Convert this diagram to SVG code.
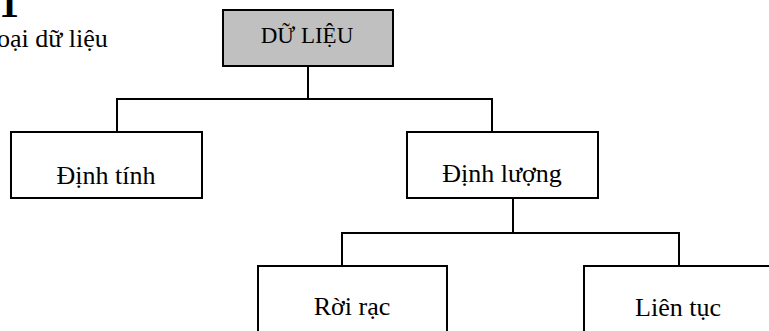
<svg xmlns="http://www.w3.org/2000/svg" width="769" height="331" viewBox="0 0 769 331">
  <style>
    .serif { font-family: "Liberation Serif", serif; fill: #000000; }
    .box { fill: #ffffff; stroke: #000000; stroke-width: 2; }
    .root { fill: #c0c0c0; }
    .label { font-size: 26px; text-anchor: middle; }
    .link { fill: none; stroke: #000000; stroke-width: 2; }
  </style>
  <rect width="769" height="331" fill="#ffffff"/>

  <!-- clipped heading text at the top-left corner -->
  <text class="serif" x="-1" y="17" font-size="40" font-weight="bold">1</text>
  <text class="serif" x="-3" y="47" font-size="26">oại dữ liệu</text>

  <g id="connectors">
    <path class="link" d="M308,66 V99"/>
    <path class="link" d="M117,132 V99 H492 V132"/>
    <path class="link" d="M513,198 V233"/>
    <path class="link" d="M342,266 V233 H679 V266"/>
  </g>

  <g id="du-lieu">
    <rect class="box root" x="223" y="10" width="170" height="56"/>
    <text class="serif label" x="307" y="43" style="font-size:23px">DỮ LIỆU</text>
  </g>
  <g id="dinh-tinh">
    <rect class="box" x="11" y="132" width="191" height="66"/>
    <text class="serif label" x="106" y="184">Định tính</text>
  </g>
  <g id="dinh-luong">
    <rect class="box" x="407" y="132" width="191" height="66"/>
    <text class="serif label" x="502" y="182">Định lượng</text>
  </g>
  <g id="roi-rac">
    <rect class="box" x="258" y="266" width="189" height="80"/>
    <text class="serif label" x="352" y="315">Rời rạc</text>
  </g>
  <g id="lien-tuc">
    <rect class="box" x="584" y="266" width="200" height="80"/>
    <text class="serif label" x="678" y="316">Liên tục</text>
  </g>
</svg>
